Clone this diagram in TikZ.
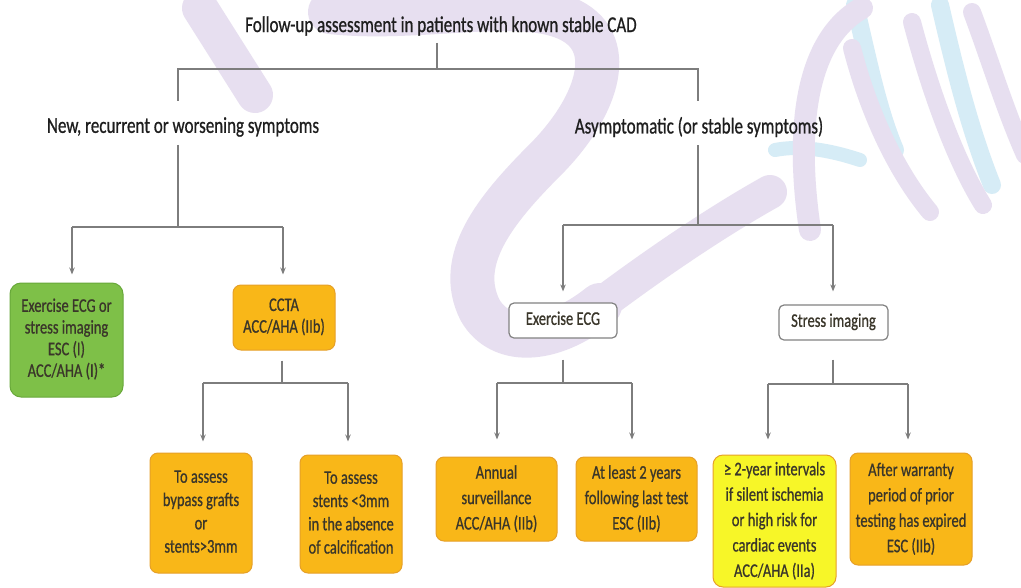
\documentclass[tikz,border=0pt]{standalone}
\usepackage{fontspec}
\usepackage{graphicx}
\setmainfont{Carlito}[FakeBold=0.9]
\usetikzlibrary{arrows.meta}
\definecolor{lineg}{RGB}{125,125,125}
\definecolor{boxg}{RGB}{130,130,130}
\definecolor{orangef}{RGB}{249,183,24}
\definecolor{oranged}{RGB}{230,160,40}
\definecolor{greenf}{RGB}{126,192,72}
\definecolor{greend}{RGB}{104,168,58}
\definecolor{yellowf}{RGB}{247,246,40}
\definecolor{txt}{RGB}{58,54,42}
\definecolor{titlec}{RGB}{30,30,30}
\definecolor{wmp}{RGB}{231,223,240}
\definecolor{wmbc}{RGB}{214,236,246}
\newcommand{\vs}[1]{\scalebox{1}[1.33]{\begin{tabular}{@{}c@{}}#1\end{tabular}}}
\begin{document}
\begin{tikzpicture}[x=1pt,y=-1pt,
  conn/.style={draw=lineg,line width=1.2pt},
  arr/.style={conn,-{Stealth[length=7pt,width=5.5pt]}},
  box/.style={rounded corners=8pt,line width=1pt,align=center,text=txt,inner sep=0pt,font=\fontsize{14.5}{16.3}\selectfont},
  obox/.style={box,fill=orangef,draw=oranged},
  gbox/.style={box,fill=greenf,draw=greend,rounded corners=11pt},
  ybox/.style={box,fill=yellowf,draw=oranged,rounded corners=10pt},
  wbox/.style={box,fill=white,draw=boxg,line width=1.2pt,rounded corners=5pt},
  mid/.style={font=\fontsize{14.5}{17.5}\selectfont},
  tall/.style={font=\fontsize{14.5}{19.1}\selectfont},
  head/.style={font=\fontsize{17}{20}\selectfont,text=titlec,inner sep=0pt},
  wm/.style={draw=wmp,line cap=round},
  wmb/.style={draw=wmbc,line cap=round}
]
\useasboundingbox (0,0) rectangle (1021,587);
\fill[white] (0,0) rectangle (1021,587);

% watermark
\draw[wm,line width=36pt] (200,8) -- (255,95);
\draw[wm,line width=44pt] (330,12) .. controls (420,22) and (520,-5) .. (570,20)
  .. controls (620,45) and (595,110) .. (545,160)
  .. controls (495,210) and (455,260) .. (480,310)
  .. controls (500,345) and (550,345) .. (600,305);
\draw[wm,line width=34pt] (600,305) .. controls (660,260) and (720,220) .. (770,192);
\draw[wmb,line width=14pt] (775,150) .. controls (800,145) and (830,150) .. (860,160);
\draw[wmb,line width=18pt] (855,5) .. controls (868,60) and (878,110) .. (895,150);
\draw[wmb,line width=18pt] (940,5) .. controls (955,70) and (970,130) .. (992,185);
\draw[wm,line width=22pt] (810,230) .. controls (795,130) and (805,40) .. (862,8);
\draw[wm,line width=18pt] (852,48) .. controls (868,110) and (895,170) .. (930,212);
\draw[wm,line width=18pt] (912,22) .. controls (930,90) and (955,160) .. (983,205);
\draw[wm,line width=18pt] (972,12) .. controls (990,60) and (1005,110) .. (1025,155);

% headings
\node[head] (title) at (441,26) {\scalebox{1}[1.33]{Follow-up assessment in patients with known stable CAD}};
\node[head] (h1) at (183,127) {\scalebox{1}[1.33]{New, recurrent or worsening symptoms}};
\node[head] (h2) at (699,127) {\scalebox{1}[1.33]{Asymptomatic (or stable symptoms)}};

% boxes
\node[gbox,minimum width=113pt,minimum height=114pt] (g) at (66.5,340) {\vs{Exercise ECG or\\stress imaging\\ESC (I)\\ACC/AHA (I)*}};
\node[obox,minimum width=102pt,minimum height=65pt] (c) at (284,317.5) {\vs{CCTA\\ACC/AHA (IIb)}};
\node[obox,mid,minimum width=102pt,minimum height=120pt] (b1) at (201,513) {\vs{To assess\\bypass grafts\\or\\stents>3mm}};
\node[obox,mid,minimum width=102pt,minimum height=118pt] (b2) at (351,514) {\vs{To assess\\stents <3mm\\in the absence\\of calcification}};
\node[wbox,minimum width=108pt,minimum height=35pt] (e) at (563,320.5) {\vs{Exercise ECG}};
\node[wbox,minimum width=109pt,minimum height=35pt] (s) at (833.5,322.5) {\vs{Stress imaging}};
\node[obox,tall,minimum width=121pt,minimum height=84pt] (a1) at (496.5,499) {\vs{Annual\\surveillance\\ACC/AHA (IIb)}};
\node[obox,tall,minimum width=121pt,minimum height=84pt] (a2) at (636.5,499) {\vs{At least 2 years\\following last test\\ESC (IIb)}};
\node[ybox,tall,minimum width=123pt,minimum height=132pt] (y) at (774.5,521) {\vs{≥ 2-year intervals\\if silent ischemia\\or high risk for\\cardiac events\\ACC/AHA (IIa)}};
\node[obox,tall,minimum width=122pt,minimum height=112pt] (w) at (911,509) {\vs{After warranty\\period of prior\\testing has expired\\ESC (IIb)}};

% top level connectors
\coordinate (jt) at (437,69);
\coordinate (jl) at (178,69);
\coordinate (jr) at (698,69);
\draw[conn,shorten <=7pt] (title.south -| jt) -- (jt);
\draw[conn,shorten >=16pt] (jt) -- (jl) -- (h1.north -| jl);
\draw[conn,shorten >=16pt] (jt) -- (jr) -- (h2.north -| jr);

% left branch
\coordinate (l0) at (178,227);
\coordinate (l1) at (72,227);
\coordinate (l2) at (283,227);
\draw[conn,shorten <=8pt] (h1.south -| l0) -- (l0);
\draw[conn] (l1) -- (l2);
\draw[arr,shorten >=8pt] (l1) -- (g.north -| l1);
\draw[arr,shorten >=10pt] (l2) -- (c.north -| l2);

% CCTA sub-branch
\coordinate (c0) at (282,383);
\coordinate (c1) at (203,383);
\coordinate (c2) at (348,383);
\draw[conn,shorten <=10pt] (c.south -| c0) -- (c0);
\draw[conn] (c1) -- (c2);
\draw[arr,shorten >=11pt] (c1) -- (b1.north -| c1);
\draw[arr,shorten >=13pt] (c2) -- (b2.north -| c2);

% right branch
\coordinate (r0) at (698,225);
\coordinate (r1) at (563,225);
\coordinate (r2) at (833,225);
\draw[conn,shorten <=8pt] (h2.south -| r0) -- (r0);
\draw[conn] (r1) -- (r2);
\draw[arr,shorten >=11pt] (r1) -- (e.north -| r1);
\draw[arr,shorten >=13pt] (r2) -- (s.north -| r2);

% exercise ECG sub-branch
\coordinate (e0) at (563,383);
\coordinate (e1) at (497,383);
\coordinate (e2) at (632,383);
\draw[conn,shorten <=21pt] (e.south -| e0) -- (e0);
\draw[conn] (e1) -- (e2);
\draw[arr,shorten >=17pt] (e1) -- (a1.north -| e1);
\draw[arr,shorten >=17pt] (e2) -- (a2.north -| e2);

% stress imaging sub-branch
\coordinate (s0) at (833,384);
\coordinate (s1) at (768,384);
\coordinate (s2) at (908,384);
\draw[conn,shorten <=19pt] (s.south -| s0) -- (s0);
\draw[conn] (s1) -- (s2);
\draw[arr,shorten >=15pt] (s1) -- (y.north -| s1);
\draw[arr,shorten >=13pt] (s2) -- (w.north -| s2);
\end{tikzpicture}
\end{document}
